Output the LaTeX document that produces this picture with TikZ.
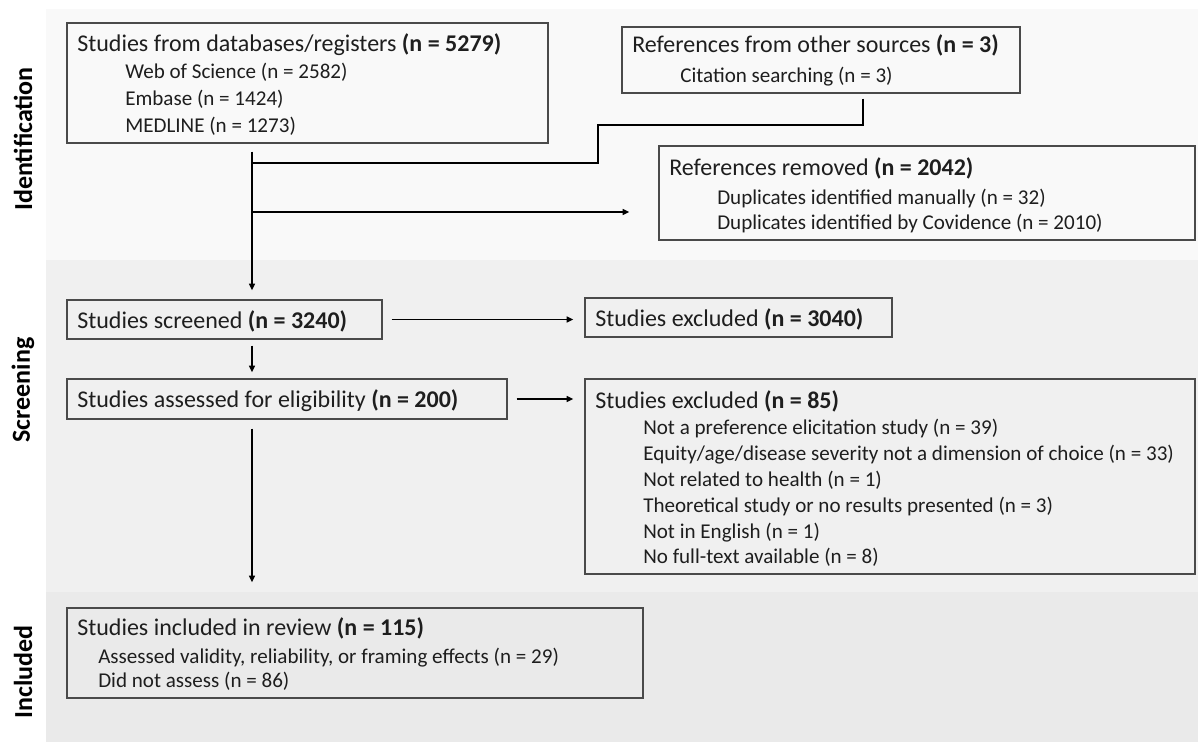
\documentclass[tikz,border=0pt]{standalone}
\usepackage{fontspec}
\setmainfont{Carlito}
\usetikzlibrary{arrows.meta,fit,calc}
\definecolor{idc}{HTML}{F9F9F9}
\definecolor{scc}{HTML}{F0F0F0}
\definecolor{inc}{HTML}{EAEAEA}
\definecolor{boxc}{HTML}{4A4A4A}
\definecolor{txt}{HTML}{1E1E1E}
\begin{document}
\begin{tikzpicture}[x=0.75pt,y=-0.75pt,
  box/.style={draw=boxc, line width=1.1pt, inner sep=0pt},
  ttl/.style={anchor=base west, inner sep=0pt, text=txt, font=\fontsize{18}{21}\selectfont},
  itm/.style={anchor=base west, inner sep=0pt, text=txt, font=\fontsize{15.8}{19}\selectfont},
  lbl/.style={rotate=90, inner sep=0pt, text=black, font=\fontsize{19.5}{23}\selectfont\bfseries},
  arr/.style={line width=1.1pt, -{Triangle[length=5pt,width=4.5pt]}},
  ln/.style={line width=1.1pt}]
\useasboundingbox (0,0) rectangle (1198,742);
\fill[white] (0,0) rectangle (1198,742);
% bands
\fill[idc] (46,9) rectangle (1198,260);
\fill[scc] (46,260) rectangle (1198,592);
\fill[inc] (46,592) rectangle (1198,742);
% phase labels
\node[lbl] (lid) at (23,139) {Identification};
\node[lbl] (lsc) at (23,390) {Screening};
\node[lbl] (lin) at (23,672) {Included};
% boxes
\node[box, fit={(67,23) (548,143)}] (b1) {};
\node[box, fit={(622,27) (1020,93)}] (b2) {};
\node[box, fit={(659,146) (1195,240)}] (b3) {};
\node[box, fit={(67,300) (382,339)}] (b4) {};
\node[box, fit={(585,298) (892,337)}] (b5) {};
\node[box, fit={(67,379) (507,419)}] (b6) {};
\node[box, fit={(585,379) (1195,574)}] (b7) {};
\node[box, fit={(67,608) (643,698)}] (b8) {};
% texts
\node[ttl] (t1) at (77,51) {Studies from databases/registers \textbf{(n = 5279)}};
\node[itm] (t1a) at (125,79) {Web of Science (n = 2582)};
\node[itm] (t1b) at (125,105.5) {Embase (n = 1424)};
\node[itm] (t1c) at (125,132) {MEDLINE (n = 1273)};
\node[ttl] (t2) at (632,53) {References from other sources \textbf{(n = 3)}};
\node[itm] (t2a) at (680,83) {Citation searching (n = 3)};
\node[ttl] (t3) at (669,175) {References removed \textbf{(n = 2042)}};
\node[itm] (t3a) at (717,204) {Duplicates identified manually (n = 32)};
\node[itm] (t3b) at (717,229) {Duplicates identified by Covidence (n = 2010)};
\node[ttl] (t4) at (77,328) {Studies screened \textbf{(n = 3240)}};
\node[ttl] (t5) at (595,326) {Studies excluded \textbf{(n = 3040)}};
\node[ttl] (t6) at (77,407) {Studies assessed for eligibility \textbf{(n = 200)}};
\node[ttl] (t7) at (595,408) {Studies excluded \textbf{(n = 85)}};
\node[itm] (t7a) at (643,434) {Not a preference elicitation study (n = 39)};
\node[itm] (t7b) at (643,460) {Equity/age/disease severity not a dimension of choice (n = 33)};
\node[itm] (t7c) at (643,486) {Not related to health (n = 1)};
\node[itm] (t7d) at (643,512) {Theoretical study or no results presented (n = 3)};
\node[itm] (t7e) at (643,538) {Not in English (n = 1)};
\node[itm] (t7f) at (643,563) {No full-text available (n = 8)};
\node[ttl] (t8) at (77,635) {Studies included in review \textbf{(n = 115)}};
\node[itm] (t8a) at (98,663) {Assessed validity, reliability, or framing effects (n = 29)};
\node[itm] (t8b) at (98,687) {Did not assess (n = 86)};
% connector helpers
\coordinate (trunk) at (252,0);
\coordinate (e1) at (863,125);
\coordinate (e2) at (598,125);
\coordinate (e3) at (598,163);
\coordinate (rm) at (252,212);
% connectors
\draw[arr] ([yshift=-6pt]b1.south -| trunk) -- ([yshift=6.75pt]b4.north -| trunk);
\draw[ln] ([yshift=-3.75pt]b2.south -| e1) -- (e1) -- (e2) -- (e3) -- (e3 -| trunk);
\draw[arr] (rm) -- ([xshift=-21.75pt]b3.west |- rm);
\draw[arr] ([xshift=6.75pt]b4.east) -- ([xshift=-8.25pt]b5.west |- b4.east);
\draw[arr] ([yshift=-4.5pt]b4.south -| trunk) -- ([yshift=4.5pt]b6.north -| trunk);
\draw[arr] ([xshift=6.75pt]b6.east) -- ([xshift=-8.25pt]b7.west |- b6.east);
\draw[arr] ([yshift=-6.75pt]b6.south -| trunk) -- ([yshift=18.75pt]b8.north -| trunk);
\end{tikzpicture}
\end{document}
